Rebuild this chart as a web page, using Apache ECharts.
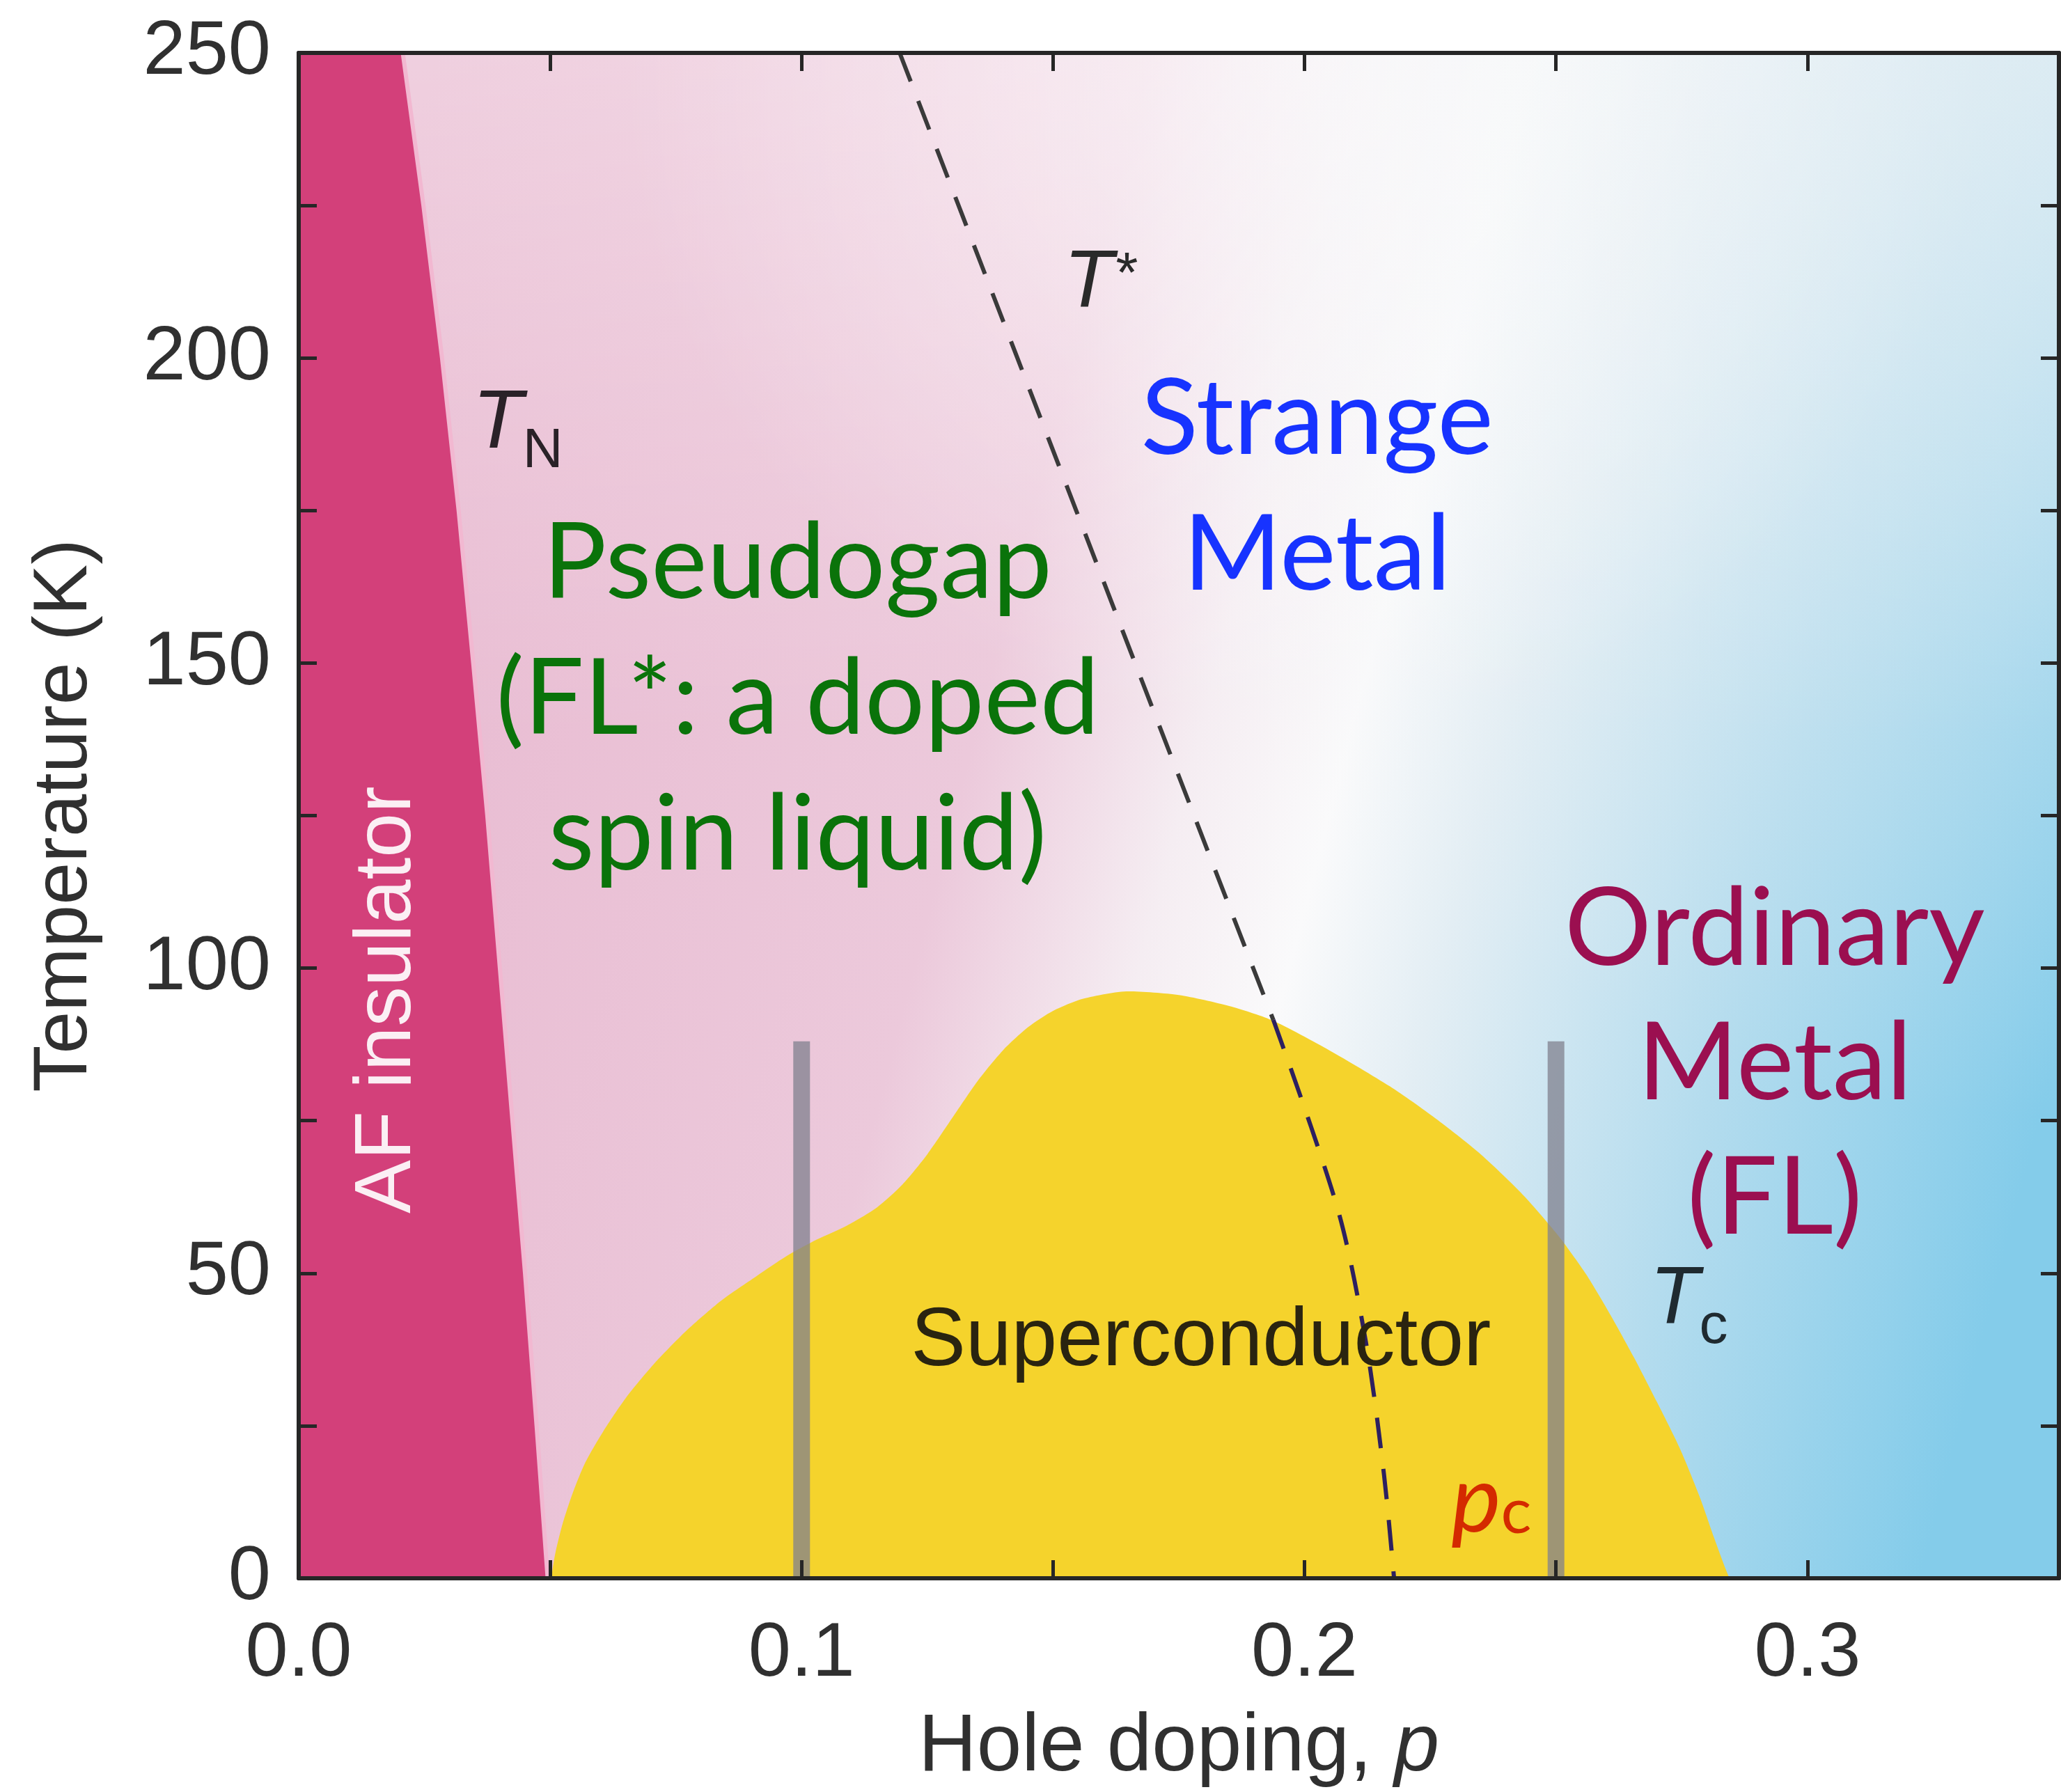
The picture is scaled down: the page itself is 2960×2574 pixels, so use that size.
<!DOCTYPE html>
<html>
<head>
<meta charset="utf-8">
<title>Cuprate phase diagram</title>
<script src="https://cdn.jsdelivr.net/npm/echarts@6/dist/echarts.min.js"></script>
<style>
html, body { margin: 0; padding: 0; background: #fff; }
#chart { width: 2960px; height: 2574px; }
</style>
</head>
<body>
<div id="chart"></div>
<script>
// tick labels
var xTickLabels = [0, 0.1, 0.2, 0.3];
var yTickLabels = [0, 50, 100, 150, 200, 250];

// AF insulator: everything left of the Neel line T_N(p)
var afRegion = [[0, 250], [0.0207, 250], [0.0248, 225], [0.0285, 200], [0.0318, 175],
  [0.0347, 150], [0.0375, 125], [0.0400, 100], [0.0425, 75], [0.0450, 50],
  [0.0473, 25], [0.0495, 0]];

// superconducting dome Tc(p)
var scDome = [[0.0502, 0], [0.0510, 4], [0.0525, 9], [0.0545, 14], [0.0570, 19],
  [0.0605, 24], [0.0650, 29.5], [0.0705, 35], [0.0770, 40.5], [0.0840, 45.5],
  [0.0910, 49.5], [0.0970, 52.8], [0.1030, 55.5], [0.1090, 57.8], [0.1150, 60.8],
  [0.1200, 64.5], [0.1250, 69.5], [0.1300, 75.5], [0.1350, 81.5], [0.1400, 86.5],
  [0.1450, 90.3], [0.1500, 93], [0.1560, 95], [0.1650, 96.2], [0.1750, 95.6],
  [0.1850, 93.8], [0.1934, 91.5], [0.2050, 86.5], [0.2170, 80.6], [0.2260, 75.4],
  [0.2346, 69.8], [0.2430, 63.2], [0.2503, 56.3], [0.2560, 49.8], [0.2608, 43.2],
  [0.2655, 36.2], [0.2700, 29], [0.2745, 21.5], [0.2785, 13.5], [0.2815, 6.5],
  [0.2835, 2], [0.2845, 0]];

// pseudogap crossover T*(p), split where it enters the dome
var tStarAbove = [[0.1195, 250], [0.1429, 200], [0.1663, 150], [0.1856, 108.9], [0.1938, 91.5]];
var tStarInside = [[0.1938, 91.5], [0.2066, 60.5], [0.2122, 38.7], [0.2158, 17], [0.2178, 0]];

// grey guide bars at p = 0.1 and p = 0.25
var barLow = [[0.1, 0], [0.1, 88]];
var barHigh = [[0.25, 0], [0.25, 88]];

// full backdrop of the plot
var backdrop = [[0, 250], [0.35, 250]];

var AXIS = '#262626';
var SANS = '"Liberation Sans", Arial, sans-serif';
var HUMAN = 'Lato, "Noto Sans", sans-serif';

var tickLabelStyle = { fontSize: 110, color: '#303030', fontFamily: SANS };

function areaLine(data, fill, z, extra) {
  var s = {
    type: 'line', data: data, z: z, showSymbol: false, silent: true,
    lineStyle: { width: 0 }, areaStyle: { color: fill, opacity: 1 }
  };
  for (var k in extra) s[k] = extra[k];
  return s;
}

function word(p, T, text, style, position) {
  return {
    value: [p, T],
    label: Object.assign({ show: true, position: position || 'inside', distance: 0,
      formatter: text, opacity: 1, textBorderWidth: 0 }, style)
  };
}

var labels = [
  word(0.0992, 144, 'Pseudogap\n(FL*: a doped\nspin liquid)',
    { fontFamily: HUMAN, fontSize: 152, lineHeight: 195, color: '#0A730A', align: 'center' }),
  word(0.2025, 178.8, 'Strange\nMetal',
    { fontFamily: HUMAN, fontSize: 152, lineHeight: 195, color: '#1733FF', align: 'center' }),
  word(0.2935, 84.2, 'Ordinary\nMetal\n(FL)',
    { fontFamily: HUMAN, fontSize: 156, lineHeight: 193, color: '#9B0F50', align: 'center' }),
  word(0.1794, 38.6, 'Superconductor',
    { fontFamily: SANS, fontSize: 118, color: '#2A2410' }),
  word(0.0177, 94.8, 'AF insulator',
    { fontFamily: SANS, fontSize: 115, color: '#FBEFF4', rotate: 90 }),
  word(0.0345, 189, '{t|T}{s|N}', {
    rich: {
      t: { fontFamily: SANS, fontSize: 118, fontStyle: 'italic', color: '#2a2228', lineHeight: 118 },
      s: { fontFamily: SANS, fontSize: 80, color: '#2a2228', height: 42, verticalAlign: 'bottom' }
    }
  }, 'right'),
  word(0.1521, 212, '{t|T}{a|*}', {
    rich: {
      t: { fontFamily: SANS, fontSize: 116, fontStyle: 'italic', color: '#2a2a2a', lineHeight: 116 },
      a: { fontFamily: SANS, fontSize: 82, fontStyle: 'italic', color: '#2a2a2a', height: 90, verticalAlign: 'top' }
    }
  }, 'right'),
  word(0.2686, 45.5, '{t|T}{s|c}', {
    rich: {
      t: { fontFamily: SANS, fontSize: 116, fontStyle: 'italic', color: '#1f2a30', lineHeight: 116 },
      s: { fontFamily: SANS, fontSize: 82, color: '#1f2a30', height: 40, verticalAlign: 'bottom' }
    }
  }, 'right'),
  word(0.2291, 12.6, '{p|p}{c|c}', {
    rich: {
      p: { fontFamily: HUMAN, fontSize: 135, fontStyle: 'italic', color: '#D42A00', height: 95, verticalAlign: 'bottom' },
      c: { fontFamily: HUMAN, fontSize: 92, color: '#D42A00', height: 64, verticalAlign: 'bottom' }
    }
  }, 'right')
];

function xFmt(v) {
  for (var i = 0; i < xTickLabels.length; i++) {
    if (Math.abs(v - xTickLabels[i]) < 1e-6) return xTickLabels[i].toFixed(1);
  }
  return '';
}
function yFmt(v) {
  return yTickLabels.indexOf(Math.round(v)) >= 0 ? String(Math.round(v)) : '';
}

function frame(pos, opts) {
  var a = {
    type: 'value', position: pos, z: 10,
    axisLine: { show: true, onZero: false, lineStyle: { color: AXIS, width: 6 } },
    axisTick: { show: true, inside: true, length: 26, lineStyle: { color: AXIS, width: 5 } },
    axisLabel: { show: false },
    splitLine: { show: false }
  };
  for (var k in opts) a[k] = opts[k];
  return a;
}

var chart = echarts.init(document.getElementById('chart'));
chart.setOption({
  animation: false,
  backgroundColor: '#ffffff',
  grid: { left: 429, right: -20, top: 76, bottom: 301 },
  xAxis: [
    frame('bottom', {
      min: 0, max: 0.35, interval: 0.05,
      axisLabel: Object.assign({ show: true, margin: 55, formatter: xFmt }, tickLabelStyle),
      name: 'Hole doping, {i|p}', nameLocation: 'middle', nameGap: 186,
      nameTextStyle: { fontSize: 116, color: '#303030', fontFamily: SANS,
        rich: { i: { fontSize: 116, color: '#303030', fontFamily: SANS, fontStyle: 'italic' } } }
    }),
    frame('top', { min: 0, max: 0.35, interval: 0.05 })
  ],
  yAxis: [
    frame('left', {
      min: 0, max: 250, interval: 25,
      axisLabel: Object.assign({ show: true, margin: 40, formatter: yFmt }, tickLabelStyle),
      name: 'Temperature (K)', nameLocation: 'middle', nameGap: 280,
      nameTextStyle: { fontSize: 110, color: '#303030', fontFamily: SANS }
    }),
    frame('right', { min: 0, max: 250, interval: 25 })
  ],
  series: [
    areaLine(backdrop, new echarts.graphic.LinearGradient(0, 0.35, 1, 0.65, [
      { offset: 0, color: '#E8B9D0' },
      { offset: 0.38, color: '#ECC9DB' },
      { offset: 0.5, color: '#F5EDF2' },
      { offset: 0.58, color: '#FAFAFB' },
      { offset: 0.66, color: '#E3EEF4' },
      { offset: 0.82, color: '#B4DCEE' },
      { offset: 1, color: '#84CCEA' }
    ]), 1),
    // lighter towards the top edge
    areaLine(backdrop, new echarts.graphic.LinearGradient(0, 0, 0, 1, [
      { offset: 0, color: 'rgba(255,255,255,0.32)' },
      { offset: 0.45, color: 'rgba(255,255,255,0)' }
    ]), 1),
    // pale haze over the top middle of the diagram
    areaLine(backdrop, new echarts.graphic.RadialGradient(0.571, 0, 0.45, [
      { offset: 0, color: 'rgba(255,255,255,0.6)' },
      { offset: 1, color: 'rgba(255,255,255,0)' }
    ]), 1),
    // paler, greyer blue in the top right corner
    areaLine(backdrop, new echarts.graphic.RadialGradient(1, 0, 0.7, [
      { offset: 0, color: 'rgba(236,240,243,0.6)' },
      { offset: 1, color: 'rgba(236,240,243,0)' }
    ]), 1),
    areaLine(afRegion, '#D3407A', 2, { lineStyle: { width: 6, color: '#F2B8D1' } }),
    areaLine(scDome, '#F5D32C', 3, { smooth: 0.25 }),
    { type: 'line', data: barLow, z: 4, showSymbol: false, silent: true,
      lineStyle: { color: 'rgba(128,128,142,0.75)', width: 24, cap: 'butt' } },
    { type: 'line', data: barHigh, z: 4, showSymbol: false, silent: true,
      lineStyle: { color: 'rgba(128,128,142,0.75)', width: 24, cap: 'butt' } },
    { type: 'line', data: tStarAbove, z: 5, showSymbol: false, silent: true, smooth: 0.2,
      lineStyle: { color: '#3a3a3a', width: 6, type: [44, 30] } },
    { type: 'line', data: tStarInside, z: 5, showSymbol: false, silent: true, smooth: 0.3,
      lineStyle: { color: '#2D2060', width: 6, type: [44, 30] } },
    { type: 'scatter', data: labels, z: 6, symbolSize: 1, silent: true,
      itemStyle: { color: 'rgba(0,0,0,0)', opacity: 1 } }
  ]
});
</script>
</body>
</html>
